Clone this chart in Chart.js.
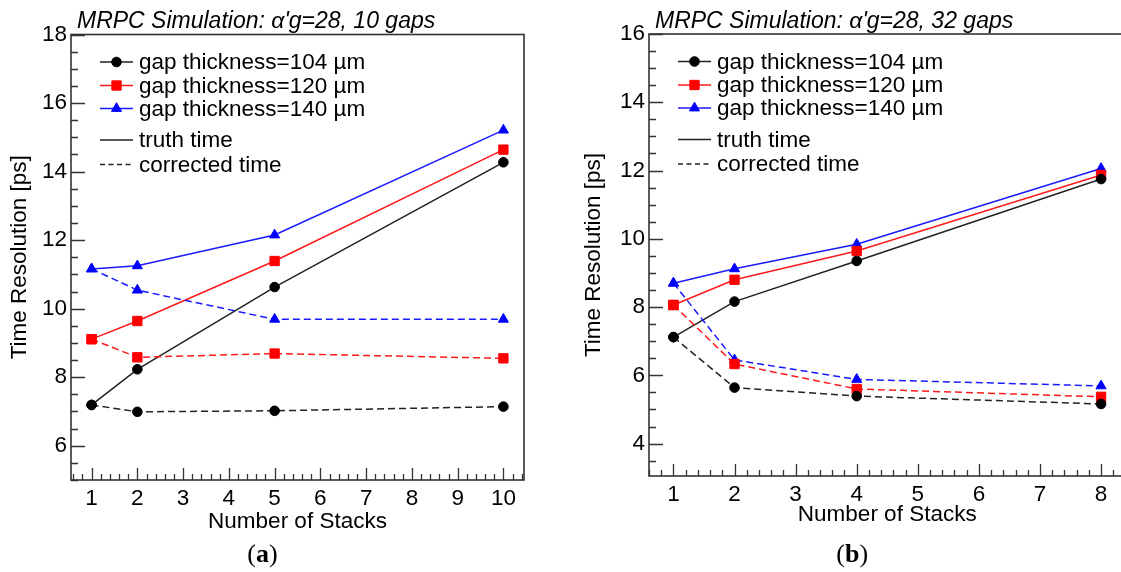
<!DOCTYPE html>
<html>
<head>
<meta charset="utf-8">
<script src="https://cdn.jsdelivr.net/npm/chart.js@4.4.1/dist/chart.umd.min.js"></script>
<style>
  html, body { margin: 0; padding: 0; background: #fff; overflow: hidden; width: 1121px; height: 572px; }
  .panel { position: absolute; top: 0; height: 572px; }
  #pa { left: 0; width: 560px; }
  #pb { left: 560px; width: 580px; }
</style>
</head>
<body>
<div class="panel" id="pa"><canvas id="ca" width="560" height="572"></canvas></div>
<div class="panel" id="pb"><canvas id="cb" width="580" height="572"></canvas></div>
<script>
// ---- data ----------------------------------------------------------------
// Number of stacks
const stacksA = [1, 2, 5, 10];   // 10 gaps
const stacksB = [1, 2, 4, 8];    // 32 gaps

// Time resolution [ps], 10 gaps
const truthA104 = [7.19, 8.23, 10.63, 14.27];
const truthA120 = [9.11, 9.64, 11.39, 14.64];
const truthA140 = [11.16, 11.25, 12.15, 15.21];
const corrA104  = [7.19, 6.99, 7.02, 7.14];
const corrA120  = [9.11, 8.58, 8.69, 8.55];
const corrA140  = [11.16, 10.54, 9.69, 9.69];

// Time resolution [ps], 32 gaps
const truthB104 = [7.12, 8.16, 9.35, 11.75];
const truthB120 = [8.06, 8.80, 9.64, 11.87];
const truthB140 = [8.70, 9.12, 9.84, 12.06];
const corrB104  = [7.12, 5.64, 5.39, 5.16];
const corrB120  = [8.06, 6.33, 5.60, 5.37];
const corrB140  = [8.70, 6.45, 5.88, 5.69];

// Axis tick labels
const xTicksA = [1, 2, 3, 4, 5, 6, 7, 8, 9, 10];
const xTicksB = [1, 2, 3, 4, 5, 6, 7, 8];
const yTicksA = [6, 8, 10, 12, 14, 16, 18];
const yTicksB = [4, 6, 8, 10, 12, 14, 16];

// Legend texts
const gapLabels = ['gap thickness=104 \u00b5m', 'gap thickness=120 \u00b5m', 'gap thickness=140 \u00b5m'];
const styleLabels = ['truth time', 'corrected time'];

// ---- styling -------------------------------------------------------------
const FONT = '"Liberation Sans", Arial, Helvetica, sans-serif';
const SERIF = '"Liberation Serif", "DejaVu Serif", serif';
const FRAME = '#333';
const COLORS = ['#000000', '#ff0000', '#0000ff'];
const LINE_COLORS = ['#222222', '#ff1a1a', '#1a1aff'];
const MARKERS = [
  { style: 'circle', radius: 4.8 },
  { style: 'rect', radius: 6.6 },
  { style: 'triangle', radius: 5.8 }
];
const DASH = [7, 4];

Chart.defaults.font.family = FONT;
Chart.defaults.color = '#000';

function drawMarker(ctx, m, color, x, y) {
  ctx.save();
  ctx.fillStyle = color;
  ctx.strokeStyle = color;
  ctx.lineWidth = 1;
  ctx.setLineDash([]);
  Chart.helpers.drawPoint(ctx, { pointStyle: m.style, radius: m.radius, rotation: 0, borderWidth: 1 }, x, y);
  ctx.restore();
}

// Frame box with inward ticks, title, in-frame legend and caption
const rootFrame = {
  id: 'rootFrame',
  beforeDatasetsDraw(chart, args, opts) {
    const { ctx, chartArea: a, scales } = chart;
    const xs = scales.x, ys = scales.y;
    ctx.save();
    ctx.strokeStyle = FRAME;
    ctx.lineWidth = 1.6;
    ctx.strokeRect(a.left, a.top, a.right - a.left, a.bottom - a.top);
    ctx.lineWidth = 1.3;
    ctx.beginPath();
    // y ticks: major at labelled values, minor every 0.5
    for (let k = Math.ceil(ys.min / 0.5); k * 0.5 <= ys.max + 1e-9; k++) {
      const v = k * 0.5;
      const major = opts.yTicks.some(t => Math.abs(t - v) < 1e-6);
      const py = Math.round(ys.getPixelForValue(v)) + 0.5;
      ctx.moveTo(a.left, py);
      ctx.lineTo(a.left + (major ? 14 : 7), py);
    }
    // x ticks: major at integers, minor every 0.2
    for (let k = Math.ceil(xs.min / 0.2 - 1e-6); k * 0.2 <= xs.max + 1e-9; k++) {
      const v = k * 0.2;
      const major = Math.abs(v - Math.round(v)) < 1e-6;
      const px = Math.round(xs.getPixelForValue(v)) + 0.5;
      ctx.moveTo(px, a.bottom);
      ctx.lineTo(px, a.bottom - (major ? 12 : 6));
    }
    ctx.stroke();
    ctx.restore();
  },
  afterDraw(chart, args, opts) {
    const { ctx, chartArea: a } = chart;
    ctx.save();
    // title
    ctx.fillStyle = '#000';
    ctx.textBaseline = 'middle';
    ctx.textAlign = 'left';
    ctx.font = 'italic 23px ' + FONT;
    ctx.fillText(opts.title, a.left + 6, 22);

    // legend
    const lx0 = a.left + 29, lx1 = a.left + 62, tx = a.left + 68;
    const rows = [27.5, 51, 74, 105.5, 130];
    ctx.font = '22.5px ' + FONT;
    ctx.lineWidth = 1.5;
    gapLabels.forEach((lab, i) => {
      const y = a.top + rows[i];
      ctx.strokeStyle = LINE_COLORS[i];
      ctx.setLineDash([]);
      ctx.beginPath(); ctx.moveTo(lx0, y); ctx.lineTo(lx1, y); ctx.stroke();
      drawMarker(ctx, MARKERS[i], COLORS[i], (lx0 + lx1) / 2, y);
      ctx.fillStyle = '#000';
      ctx.fillText(lab, tx, y + 1);
    });
    styleLabels.forEach((lab, j) => {
      const y = a.top + rows[3 + j];
      ctx.strokeStyle = '#222';
      ctx.setLineDash(j === 0 ? [] : [5, 3.5]);
      ctx.beginPath(); ctx.moveTo(lx0, y); ctx.lineTo(lx1, y); ctx.stroke();
      ctx.setLineDash([]);
      ctx.fillStyle = '#000';
      ctx.fillText(lab, tx, y + 1);
    });

    // caption "(a)" with bold letter
    const cx = (a.left + a.right) / 2 - 35;
    const cy = 555;
    const size = 26;
    ctx.textBaseline = 'middle';
    ctx.font = size + 'px ' + SERIF;
    const wOpen = ctx.measureText('(').width;
    const wClose = ctx.measureText(')').width;
    ctx.font = 'bold ' + size + 'px ' + SERIF;
    const wLet = ctx.measureText(opts.caption).width;
    let x = cx - (wOpen + wLet + wClose) / 2;
    ctx.font = size + 'px ' + SERIF;
    ctx.fillText('(', x, cy); x += wOpen;
    ctx.font = 'bold ' + size + 'px ' + SERIF;
    ctx.fillText(opts.caption, x, cy); x += wLet;
    ctx.font = size + 'px ' + SERIF;
    ctx.fillText(')', x, cy);
    ctx.restore();
  }
};

function series(stacks, values, i, dashed) {
  return {
    label: gapLabels[i] + (dashed ? ' corrected' : ' truth'),
    data: stacks.map((x, k) => ({ x: x, y: values[k] })),
    borderColor: LINE_COLORS[i],
    backgroundColor: COLORS[i],
    pointBackgroundColor: COLORS[i],
    pointBorderColor: COLORS[i],
    pointBorderWidth: 1,
    pointStyle: MARKERS[i].style,
    pointRadius: MARKERS[i].radius,
    borderWidth: 1.5,
    borderDash: dashed ? DASH : [],
    fill: false,
    tension: 0,
    clip: false
  };
}

function makePanel(id, o) {
  const tickFont = { family: FONT, size: 22.5 };
  return new Chart(document.getElementById(id), {
    type: 'line',
    data: {
      datasets: [
        series(o.stacks, o.corr[0], 0, true),
        series(o.stacks, o.corr[1], 1, true),
        series(o.stacks, o.corr[2], 2, true),
        series(o.stacks, o.truth[0], 0, false),
        series(o.stacks, o.truth[1], 1, false),
        series(o.stacks, o.truth[2], 2, false)
      ]
    },
    options: {
      responsive: false,
      animation: false,
      events: [],
      layout: { padding: { left: 0, top: o.top, right: o.padRight, bottom: 0 } },
      plugins: {
        legend: { display: false },
        tooltip: { enabled: false },
        rootFrame: { title: o.title, caption: o.caption, yTicks: o.yTicks }
      },
      scales: {
        x: {
          type: 'linear',
          min: o.xMin, max: o.xMax,
          afterBuildTicks: s => { s.ticks = o.xTicks.map(v => ({ value: v })); },
          afterFit: s => { s.height = o.xHeight; },
          ticks: { font: tickFont, color: '#000', padding: 5, maxRotation: 0, autoSkip: false },
          grid: { display: false, drawTicks: false },
          border: { display: false },
          title: { display: true, text: 'Number of Stacks', color: '#000',
                   font: { family: FONT, size: 22.5 }, padding: { top: 0, bottom: o.xTitlePad } }
        },
        y: {
          type: 'linear',
          min: o.yMin, max: o.yMax,
          afterBuildTicks: s => { s.ticks = o.yTicks.map(v => ({ value: v })); },
          afterFit: s => { s.width = o.yWidth; },
          ticks: { font: tickFont, color: '#000', padding: 4, autoSkip: false },
          grid: { display: false, drawTicks: false },
          border: { display: false },
          title: { display: true, text: 'Time Resolution [ps]', color: '#000',
                   font: { family: FONT, size: 22.5 }, padding: { top: o.yTitlePad, bottom: 0 } }
        }
      }
    },
    plugins: [rootFrame]
  });
}

makePanel('ca', {
  stacks: stacksA,
  truth: [truthA104, truthA120, truthA140],
  corr: [corrA104, corrA120, corrA140],
  xMin: 0.55, xMax: 10.45, xTicks: xTicksA,
  yMin: 5, yMax: 18, yTicks: yTicksA,
  title: "MRPC Simulation: \u03b1'g=28, 10 gaps",
  caption: 'a',
  top: 34.5, padRight: 36, yWidth: 71, xHeight: 92,
  xTitlePad: 36.5, yTitlePad: 6
});

makePanel('cb', {
  stacks: stacksB,
  truth: [truthB104, truthB120, truthB140],
  corr: [corrB104, corrB120, corrB140],
  xMin: 0.6, xMax: 8.4, xTicks: xTicksB,
  yMin: 3.05, yMax: 16, yTicks: yTicksB,
  title: "MRPC Simulation: \u03b1'g=28, 32 gaps",
  caption: 'b',
  top: 34, padRight: 14.5, yWidth: 89, xHeight: 96,
  xTitlePad: 43.5, yTitlePad: 20.5
});
</script>
</body>
</html>
